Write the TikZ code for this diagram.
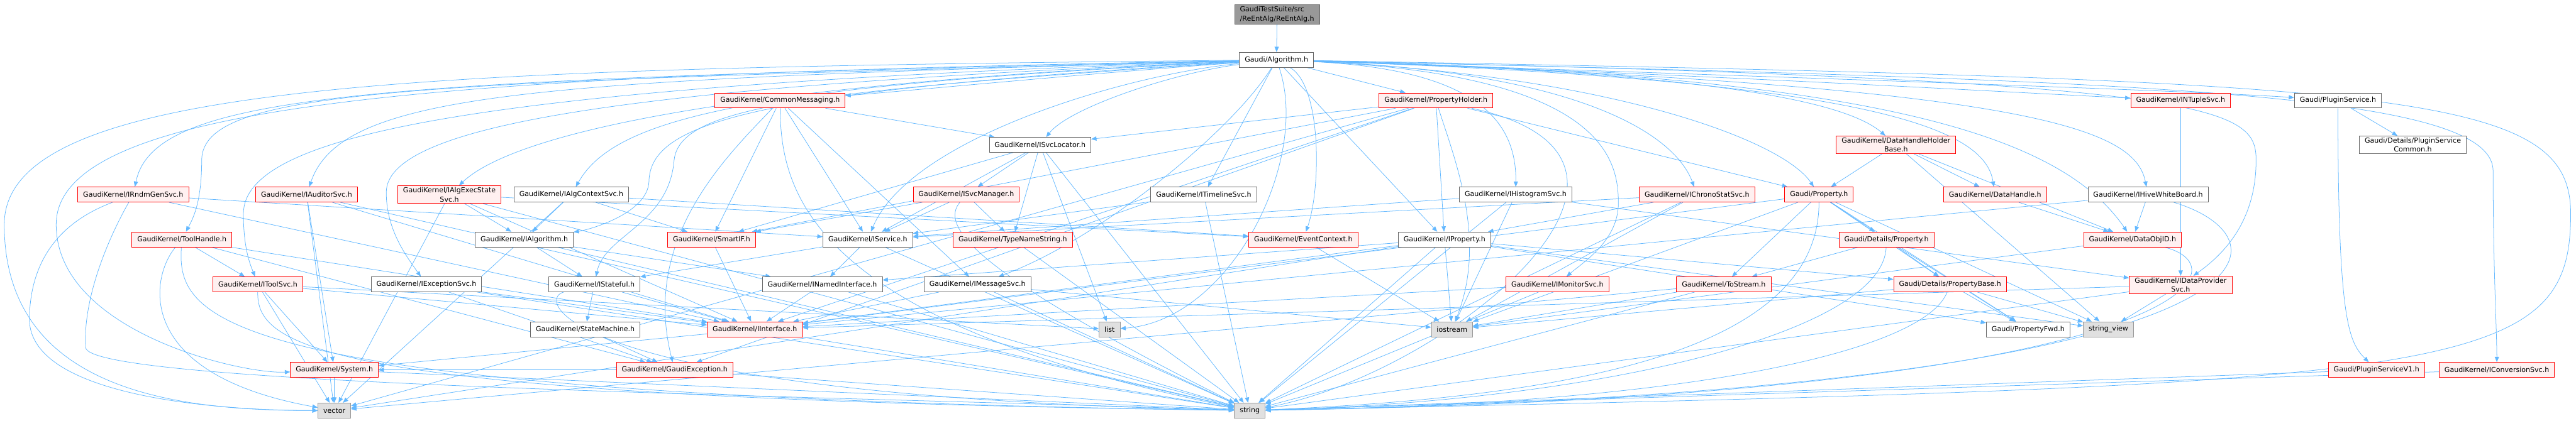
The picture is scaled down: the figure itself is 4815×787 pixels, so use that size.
\documentclass[tikz,border=0pt]{standalone}
\usepackage{fontspec}
\setmainfont{DejaVu Sans}
\usepackage{tikz}
\usetikzlibrary{arrows.meta}

\definecolor{edgeblue}{HTML}{63B8FF}
\definecolor{redfill}{HTML}{FFF0F0}
\definecolor{boxgray}{HTML}{666666}
\definecolor{sysgray}{HTML}{999999}
\definecolor{sysfill}{HTML}{E0E0E0}
\definecolor{topfill}{HTML}{999999}

\pgfdeclarelayer{bg}
\pgfsetlayers{bg,main}

\begin{document}
\begin{tikzpicture}[x=0.5pt, y=-0.5pt]
  \useasboundingbox (0,0) rectangle (4815,787);

 % styles
  \tikzset{hdr/.style={draw, line width=0.5pt, font=\fontsize{6.5}{8.5}\selectfont,
      inner xsep=5pt, inner ysep=1.5pt, minimum height=14pt, align=center},
    redhdr/.style={hdr, draw=red, fill=redfill},
    grayhdr/.style={hdr, draw=boxgray, fill=white},
    syshdr/.style={hdr, draw=sysgray, fill=sysfill},
    tophdr/.style={hdr, draw=boxgray, fill=topfill, align=left},
    dep/.style={draw=edgeblue, line width=0.45pt, -{Triangle[length=5pt,width=4pt]}}}

% top
  \node[tophdr] (reentalg) at (2387, 27) {GaudiTestSuite/src\\/ReEntAlg/ReEntAlg.h};
  \node[grayhdr] (algorithm) at (2386, 112) {Gaudi/Algorithm.h};

% row 2 and 3
  \node[redhdr] (commonmsg) at (1458, 188) {GaudiKernel/CommonMessaging.h};
  \node[redhdr] (propholder) at (2684, 188) {GaudiKernel/PropertyHolder.h};
  \node[redhdr] (ntuplesvc) at (4076, 188) {GaudiKernel/INTupleSvc.h};
  \node[grayhdr] (pluginsvc) at (4370, 188) {Gaudi/PluginService.h};
  \node[grayhdr] (svclocator) at (1944, 271) {GaudiKernel/ISvcLocator.h};
  \node[redhdr] (dhholder) at (3544, 271) {GaudiKernel/DataHandleHolder\\Base.h};
  \node[grayhdr] (plugincommon) at (4510, 271) {Gaudi/Details/PluginService\\Common.h};

% row 4
  \node[redhdr] (rndmgen) at (249, 364) {GaudiKernel/IRndmGenSvc.h};
  \node[redhdr] (auditorsvc) at (573, 364) {GaudiKernel/IAuditorSvc.h};
  \node[redhdr] (algexec) at (840, 364) {GaudiKernel/IAlgExecState\\Svc.h};
  \node[grayhdr] (algcontext) at (1068, 364) {GaudiKernel/IAlgContextSvc.h};
  \node[redhdr] (svcmanager) at (1806, 364) {GaudiKernel/ISvcManager.h};
  \node[grayhdr] (timeline) at (2250, 364) {GaudiKernel/ITimelineSvc.h};
  \node[grayhdr] (histosvc) at (2833, 364) {GaudiKernel/IHistogramSvc.h};
  \node[redhdr] (chronosvc) at (3172, 364) {GaudiKernel/IChronoStatSvc.h};
  \node[redhdr] (property) at (3400, 364) {Gaudi/Property.h};
  \node[redhdr] (datahandle) at (3729, 364) {GaudiKernel/DataHandle.h};
  \node[grayhdr] (hivewb) at (4015, 364) {GaudiKernel/IHiveWhiteBoard.h};

% row 5
  \node[redhdr] (toolhandle) at (340, 448) {GaudiKernel/ToolHandle.h};
  \node[grayhdr] (ialgorithm) at (980, 448) {GaudiKernel/IAlgorithm.h};
  \node[redhdr] (smartif) at (1330, 448) {GaudiKernel/SmartIF.h};
  \node[grayhdr] (iservice) at (1622, 448) {GaudiKernel/IService.h};
  \node[redhdr] (typename) at (1893, 448) {GaudiKernel/TypeNameString.h};
  \node[redhdr] (eventctx) at (2436, 448) {GaudiKernel/EventContext.h};
  \node[grayhdr] (iproperty) at (2700, 448) {GaudiKernel/IProperty.h};
  \node[redhdr] (detprop) at (3526, 448) {Gaudi/Details/Property.h};
  \node[redhdr] (dataobjid) at (3986, 448) {GaudiKernel/DataObjID.h};

% row 6
  \node[redhdr] (toolsvc) at (482, 532) {GaudiKernel/IToolSvc.h};
  \node[grayhdr] (exceptionsvc) at (797, 532) {GaudiKernel/IExceptionSvc.h};
  \node[grayhdr] (stateful) at (1111, 532) {GaudiKernel/IStateful.h};
  \node[grayhdr] (inamed) at (1537, 532) {GaudiKernel/INamedInterface.h};
  \node[grayhdr] (msgsvc) at (1827, 532) {GaudiKernel/IMessageSvc.h};
  \node[redhdr] (monitorsvc) at (2911, 532) {GaudiKernel/IMonitorSvc.h};
  \node[redhdr] (tostream) at (3222, 532) {GaudiKernel/ToStream.h};
  \node[redhdr] (propbase) at (3645, 532) {Gaudi/Details/PropertyBase.h};
  \node[redhdr] (dataprovider) at (4076, 533) {GaudiKernel/IDataProvider\\Svc.h};

% row 7
  \node[grayhdr] (statemachine) at (1094, 616) {GaudiKernel/StateMachine.h};
  \node[redhdr] (iinterface) at (1411, 616) {GaudiKernel/IInterface.h};
  \node[syshdr] (list) at (2074, 616) {list};
  \node[syshdr] (iostream) at (2714, 616) {iostream};
  \node[grayhdr] (propfwd) at (3791, 616) {Gaudi/PropertyFwd.h};
  \node[syshdr] (stringview) at (3941, 616) {string\_view};

% row 8 and 9
  \node[redhdr] (system) at (625, 692) {GaudiKernel/System.h};
  \node[redhdr] (gaudiexc) at (1261, 692) {GaudiKernel/GaudiException.h};
  \node[redhdr] (pluginv1) at (4442, 692) {Gaudi/PluginServiceV1.h};
  \node[redhdr] (conversionsvc) at (4667, 692) {GaudiKernel/IConversionSvc.h};
  \node[syshdr] (vector) at (625, 768) {vector};
  \node[syshdr] (string) at (2336, 768) {string};

\begin{pgfonlayer}{bg}
%includes of the algorithm
  \draw[dep] (reentalg) -- (algorithm);
  \draw[dep] (algorithm) .. controls (800,128) and (8,150) .. (8,420) .. controls (8,740) and (350,768) .. (vector);
  \draw[dep] (algorithm) .. controls (900,140) and (105,180) .. (105,420) .. controls (105,620) and (450,700) .. (system);
  \draw[dep] (algorithm) .. controls (700,150) and (290,170) .. (rndmgen);
  \draw[dep] (algorithm) .. controls (800,155) and (377,160) .. (377,300) .. controls (377,380) and (360,410) .. (toolhandle);
  \draw[dep] (algorithm) .. controls (900,160) and (455,250) .. (455,400) .. controls (455,470) and (470,500) .. (toolsvc);
  \draw[dep] (algorithm) .. controls (1000,150) and (640,170) .. (auditorsvc);
  \draw[dep] (algorithm) .. controls (1200,160) and (722,230) .. (722,360) .. controls (722,430) and (760,480) .. (exceptionsvc);
  \draw[dep] (algorithm) .. controls (1300,160) and (950,260) .. (algexec);
  \draw[dep] (algorithm) .. controls (1400,160) and (1150,220) .. (algcontext);
  \draw[dep] (algorithm) .. controls (1400,170) and (1215,230) .. (1213,340) .. controls (1210,400) and (1100,430) .. (ialgorithm);
  \draw[dep] (algorithm) .. controls (1500,170) and (1270,200) .. (1260,300) .. controls (1250,420) and (1130,440) .. (stateful);
  \draw[dep] (algorithm) .. controls (2000,140) and (1700,170) .. (commonmsg);
  \draw[dep] (algorithm) .. controls (2200,135) and (2000,200) .. (svclocator);
  \draw[dep] (algorithm) .. controls (2100,140) and (1700,260) .. (iservice);
  \draw[dep] (algorithm) .. controls (2300,250) and (2050,450) .. (msgsvc);
  \draw[dep] (algorithm) -- (timeline);
  \draw[dep] (algorithm) .. controls (2470,160) and (2470,350) .. (eventctx);
  \draw[dep] (algorithm) -- (iproperty);
  \draw[dep] (algorithm) -- (propholder);
  \draw[dep] (algorithm) .. controls (2750,130) and (2835,220) .. (histosvc);
  \draw[dep] (algorithm) .. controls (3000,140) and (3025,300) .. (3025,380) .. controls (3025,450) and (2960,490) .. (monitorsvc);
  \draw[dep] (algorithm) .. controls (2950,135) and (3130,250) .. (chronosvc);
  \draw[dep] (algorithm) .. controls (3000,140) and (3330,260) .. (property);
  \draw[dep] (algorithm) .. controls (3200,135) and (3450,190) .. (dhholder);
  \draw[dep] (algorithm) .. controls (3500,150) and (3710,240) .. (datahandle);
  \draw[dep] (algorithm) .. controls (3500,140) and (3850,250) .. (dataobjid);
  \draw[dep] (algorithm) .. controls (3800,160) and (3990,240) .. (hivewb);
  \draw[dep] (algorithm) .. controls (3200,140) and (3700,170) .. (ntuplesvc);
  \draw[dep] (algorithm) .. controls (4150,150) and (4217,200) .. (4217,300) .. controls (4217,420) and (4150,480) .. (dataprovider);
  \draw[dep] (algorithm) .. controls (3500,150) and (4100,170) .. (pluginsvc);
  \draw[dep] (algorithm) .. controls (4000,150) and (4660,170) .. (4660,320) .. controls (4660,500) and (4667,620) .. (conversionsvc);
  \draw[dep] (algorithm) .. controls (4500,150) and (4805,170) .. (4805,400) .. controls (4805,705) and (4600,720) .. (string);
  \draw[dep] (algorithm) .. controls (2450,300) and (2300,600) .. (list);

%messaging and services
  \draw[dep] (commonmsg) -- (svclocator);
  \draw[dep] (commonmsg) -- (smartif);
  \draw[dep] (commonmsg) -- (iservice);
  \draw[dep] (commonmsg) -- (msgsvc);
  \draw[dep] (commonmsg) .. controls (1350,300) and (1200,450) .. (gaudiexc);
  \draw[dep] (commonmsg) .. controls (1460,350) and (1500,600) .. (string);
  \draw[dep] (svclocator) -- (iservice);
  \draw[dep] (svclocator) -- (smartif);
  \draw[dep] (svclocator) -- (svcmanager);
  \draw[dep] (svclocator) -- (typename);
  \draw[dep] (svclocator) -- (list);
  \draw[dep] (svclocator) -- (string);
  \draw[dep] (svcmanager) -- (iservice);
  \draw[dep] (svcmanager) -- (typename);
  \draw[dep] (svcmanager) -- (smartif);
  \draw[dep] (svcmanager) .. controls (1760,420) and (1800,500) .. (string);
  \draw[dep] (timeline) -- (iservice);
  \draw[dep] (timeline) -- (string);
  \draw[dep] (typename) -- (string);
  \draw[dep] (iservice) -- (inamed);
  \draw[dep] (iservice) -- (stateful);
  \draw[dep] (iservice) -- (string);
  \draw[dep] (msgsvc) -- (iinterface);
  \draw[dep] (msgsvc) -- (iostream);
  \draw[dep] (msgsvc) -- (string);
  \draw[dep] (ialgorithm) -- (stateful);
  \draw[dep] (ialgorithm) -- (inamed);
  \draw[dep] (ialgorithm) -- (string);
  \draw[dep] (algcontext) -- (ialgorithm);
  \draw[dep] (algcontext) -- (smartif);
  \draw[dep] (algcontext) -- (eventctx);
  \draw[dep] (algcontext) -- (vector);
  \draw[dep] (algexec) -- (ialgorithm);
  \draw[dep] (algexec) -- (iinterface);
  \draw[dep] (algexec) -- (eventctx);
  \draw[dep] (algexec) -- (string);
  \draw[dep] (algexec) -- (vector);
  \draw[dep] (auditorsvc) -- (system);
  \draw[dep] (auditorsvc) -- (iinterface);
  \draw[dep] (auditorsvc) -- (string);
  \draw[dep] (auditorsvc) -- (vector);
  \draw[dep] (rndmgen) -- (iservice);
  \draw[dep] (rndmgen) -- (iinterface);
  \draw[dep] (rndmgen) .. controls (100,420) and (55,500) .. (55,600) .. controls (60,740) and (400,768) .. (vector);
  \draw[dep] (rndmgen) .. controls (200,450) and (155,560) .. (160,650) .. controls (165,720) and (1500,740) .. (string);
  \draw[dep] (toolhandle) -- (toolsvc);
  \draw[dep] (toolhandle) -- (iinterface);
  \draw[dep] (toolhandle) -- (gaudiexc);
  \draw[dep] (toolhandle) .. controls (280,520) and (250,700) .. (vector);
  \draw[dep] (toolhandle) .. controls (330,600) and (400,740) .. (string);
  \draw[dep] (toolsvc) -- (system);
  \draw[dep] (toolsvc) -- (iinterface);
  \draw[dep] (toolsvc) -- (list);
  \draw[dep] (toolsvc) .. controls (480,650) and (600,745) .. (string);
  \draw[dep] (toolsvc) -- (vector);
  \draw[dep] (exceptionsvc) -- (iinterface);
  \draw[dep] (exceptionsvc) -- (gaudiexc);
  \draw[dep] (exceptionsvc) -- (string);
  \draw[dep] (stateful) -- (statemachine);
  \draw[dep] (stateful) -- (iinterface);
  \draw[dep] (stateful) .. controls (1000,560) and (1050,740) .. (string);
  \draw[dep] (inamed) -- (iinterface);
  \draw[dep] (inamed) -- (string);
  \draw[dep] (smartif) -- (iinterface);
  \draw[dep] (statemachine) -- (gaudiexc);
  \draw[dep] (iinterface) -- (system);
  \draw[dep] (iinterface) -- (string);
  \draw[dep] (gaudiexc) -- (string);
  \draw[dep] (gaudiexc) -- (system);
  \draw[dep] (system) -- (vector);
  \draw[dep] (system) -- (string);
  \draw[dep] (eventctx) -- (iostream);

%properties
  \draw[dep] (propholder) -- (svclocator);
  \draw[dep] (propholder) -- (iproperty);
  \draw[dep] (propholder) -- (property);
  \draw[dep] (propholder) -- (iinterface);
  \draw[dep] (propholder) -- (smartif);
  \draw[dep] (propholder) -- (gaudiexc);
  \draw[dep] (propholder) .. controls (2720,300) and (2780,450) .. (iostream);
  \draw[dep] (propholder) .. controls (3200,300) and (2700,700) .. (string);
  \draw[dep] (propholder) -- (vector);
  \draw[dep] (iproperty) -- (iinterface);
  \draw[dep] (iproperty) -- (inamed);
  \draw[dep] (iproperty) -- (iostream);
  \draw[dep] (iproperty) -- (string);
  \draw[dep] (iproperty) -- (propbase);
  \draw[dep] (iproperty) -- (propfwd);
  \draw[dep] (iproperty) -- (stringview);
  \draw[dep] (iproperty) -- (vector);
  \draw[dep] (histosvc) -- (dataprovider);
  \draw[dep] (histosvc) -- (iservice);
  \draw[dep] (histosvc) -- (iostream);
  \draw[dep] (histosvc) -- (string);
  \draw[dep] (chronosvc) -- (iservice);
  \draw[dep] (chronosvc) -- (iproperty);
  \draw[dep] (chronosvc) -- (iostream);
  \draw[dep] (chronosvc) -- (string);
  \draw[dep] (monitorsvc) -- (iinterface);
  \draw[dep] (monitorsvc) -- (string);
  \draw[dep] (property) -- (detprop);
  \draw[dep] (property) -- (propbase);
  \draw[dep] (property) -- (tostream);
  \draw[dep] (property) -- (propfwd);
  \draw[dep] (property) -- (stringview);
  \draw[dep] (property) -- (iinterface);
  \draw[dep] (property) -- (iostream);
  \draw[dep] (property) .. controls (3400,640) and (3000,740) .. (string);
  \draw[dep] (detprop) -- (tostream);
  \draw[dep] (detprop) -- (propbase);
  \draw[dep] (detprop) -- (propfwd);
  \draw[dep] (detprop) .. controls (3520,620) and (3000,750) .. (string);
  \draw[dep] (propbase) -- (propfwd);
  \draw[dep] (propbase) -- (stringview);
  \draw[dep] (propbase) -- (iostream);
  \draw[dep] (propbase) .. controls (3600,650) and (3200,755) .. (string);
  \draw[dep] (tostream) -- (iostream);
  \draw[dep] (tostream) -- (string);
  \draw[dep] (tostream) -- (vector);

%data handles and plugins
  \draw[dep] (dhholder) -- (property);
  \draw[dep] (dhholder) -- (datahandle);
  \draw[dep] (dhholder) -- (dataobjid);
  \draw[dep] (dhholder) -- (stringview);
  \draw[dep] (datahandle) -- (dataobjid);
  \draw[dep] (hivewb) -- (dataobjid);
  \draw[dep] (hivewb) -- (iinterface);
  \draw[dep] (hivewb) .. controls (4300,450) and (4300,730) .. (string);
  \draw[dep] (dataobjid) -- (iostream);
  \draw[dep] (dataobjid) .. controls (4200,500) and (4100,740) .. (string);
  \draw[dep] (dataprovider) -- (stringview);
  \draw[dep] (dataprovider) -- (iinterface);
  \draw[dep] (dataprovider) -- (string);
  \draw[dep] (ntuplesvc) -- (dataprovider);
  \draw[dep] (pluginsvc) -- (plugincommon);
  \draw[dep] (pluginsvc) .. controls (4370,600) and (4390,640) .. (pluginv1);
  \draw[dep] (pluginv1) -- (string);
  \draw[dep] (conversionsvc) -- (string);
\end{pgfonlayer}
\end{tikzpicture}
\end{document}
